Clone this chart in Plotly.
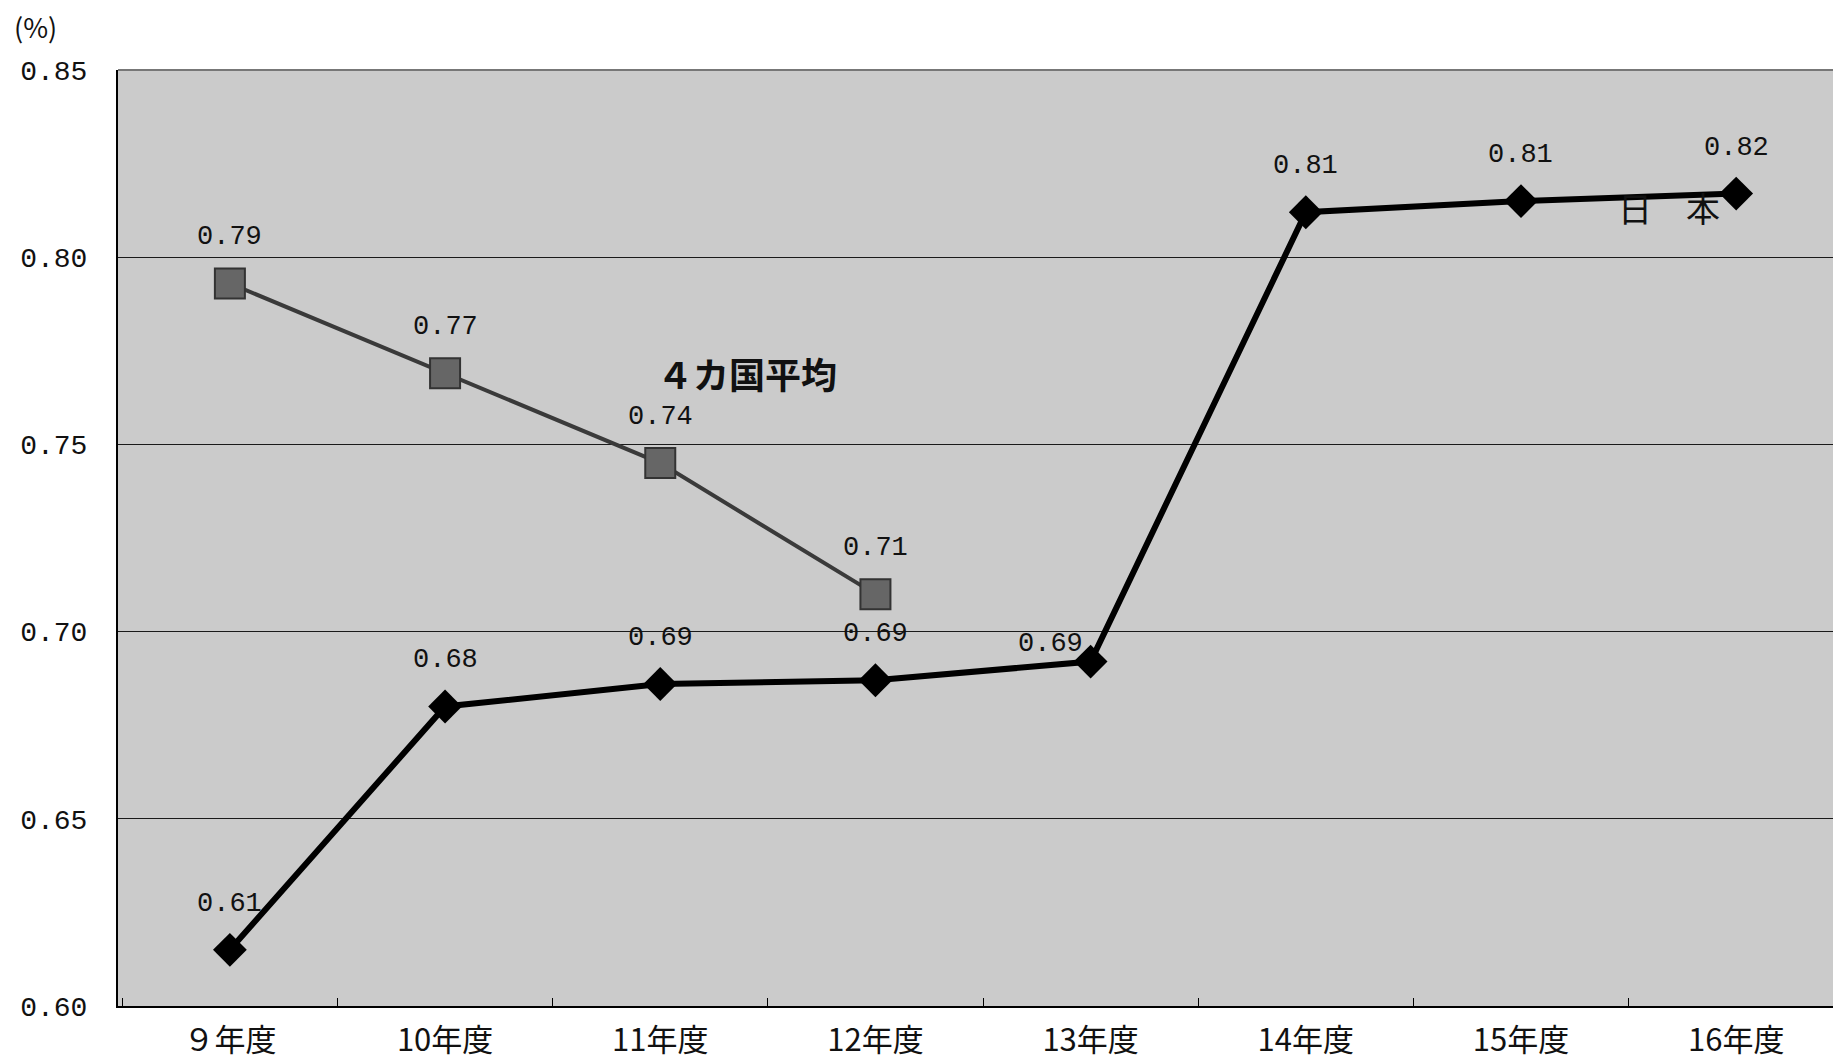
import plotly.graph_objects as go

categories = ["９年度", "10年度", "11年度", "12年度", "13年度", "14年度", "15年度", "16年度"]
japan = [0.615, 0.680, 0.686, 0.687, 0.692, 0.812, 0.815, 0.817]
japan_labels = ["0.61", "0.68", "0.69", "0.69", "0.69", "0.81", "0.81", "0.82"]
avg4 = [0.793, 0.769, 0.745, 0.710]
avg4_labels = ["0.79", "0.77", "0.74", "0.71"]
yticks = [0.60, 0.65, 0.70, 0.75, 0.80, 0.85]
ytick_text = ["0.60", "0.65", "0.70", "0.75", "0.80", "0.85"]

num_font = dict(family="Liberation Mono", size=27, color="#111111")
cjk = "Noto Sans CJK JP"

fig = go.Figure()
fig.add_trace(go.Scatter(
    x=categories[:len(avg4)], y=avg4, mode="lines+markers",
    line=dict(color="#3a3a3a", width=4),
    marker=dict(symbol="square", size=30, color="#666666",
                line=dict(color="#333333", width=2)),
    showlegend=False, hoverinfo="skip"))
fig.add_trace(go.Scatter(
    x=categories, y=japan, mode="lines+markers",
    line=dict(color="#000000", width=6),
    marker=dict(symbol="diamond", size=26, color="#000000"),
    showlegend=False, hoverinfo="skip"))

annotations = []
for i, (v, t) in enumerate(zip(avg4, avg4_labels)):
    annotations.append(dict(x=categories[i], y=v, text=t, showarrow=False,
                            xref="x", yref="y", yshift=46, font=num_font))
for i, (v, t) in enumerate(zip(japan, japan_labels)):
    xs, ys = (-40, 18) if i == 4 else (0, 46)
    annotations.append(dict(x=categories[i], y=v, text=t, showarrow=False,
                            xref="x", yref="y", xshift=xs, yshift=ys, font=num_font))

annotations += [
    dict(x=categories[2], y=0.767, text="<b>４カ国平均</b>", xref="x", yref="y",
         xshift=87, yshift=8, showarrow=False, font=dict(family=cjk, size=36, color="#111111")),
    dict(x=categories[7], y=0.816, text="日　本", xref="x", yref="y",
         xshift=-67, yshift=-10, showarrow=False,
         font=dict(family=cjk, size=34, color="#111111")),
    dict(x=-0.048, y=1.047, text="(%)", xref="paper", yref="paper", showarrow=False,
         xanchor="center", yanchor="middle",
         font=dict(family=cjk, size=27, color="#111111")),
]

fig.update_layout(
    width=1833, height=1061,
    margin=dict(l=118, r=0, t=70, b=55),
    paper_bgcolor="white", plot_bgcolor="#cbcbcb",
    annotations=annotations,
    shapes=[dict(type="line", xref="paper", yref="paper", x0=0, x1=1, y0=1, y1=1,
                 line=dict(color="#777777", width=2))],
)
fig.update_xaxes(
    type="category", range=[-0.52, 7.45], showgrid=False,
    showline=True, linecolor="#000000", linewidth=2,
    ticks="inside", tickson="boundaries", ticklen=8, tickcolor="#000000",
    tickfont=dict(family=cjk, size=31, color="#111111"), ticklabelstandoff=6,
    automargin=False, zeroline=False)
fig.update_yaxes(
    range=[0.60, 0.85], tickvals=yticks, ticktext=ytick_text,
    showgrid=True, gridcolor="#1a1a1a", gridwidth=1,
    showline=True, linecolor="#000000", linewidth=2, ticks="",
    tickfont=dict(family="Liberation Mono", size=28, color="#111111"),
    ticklabelstandoff=23,
    automargin=False, zeroline=False)

fig.write_html("out.html")
